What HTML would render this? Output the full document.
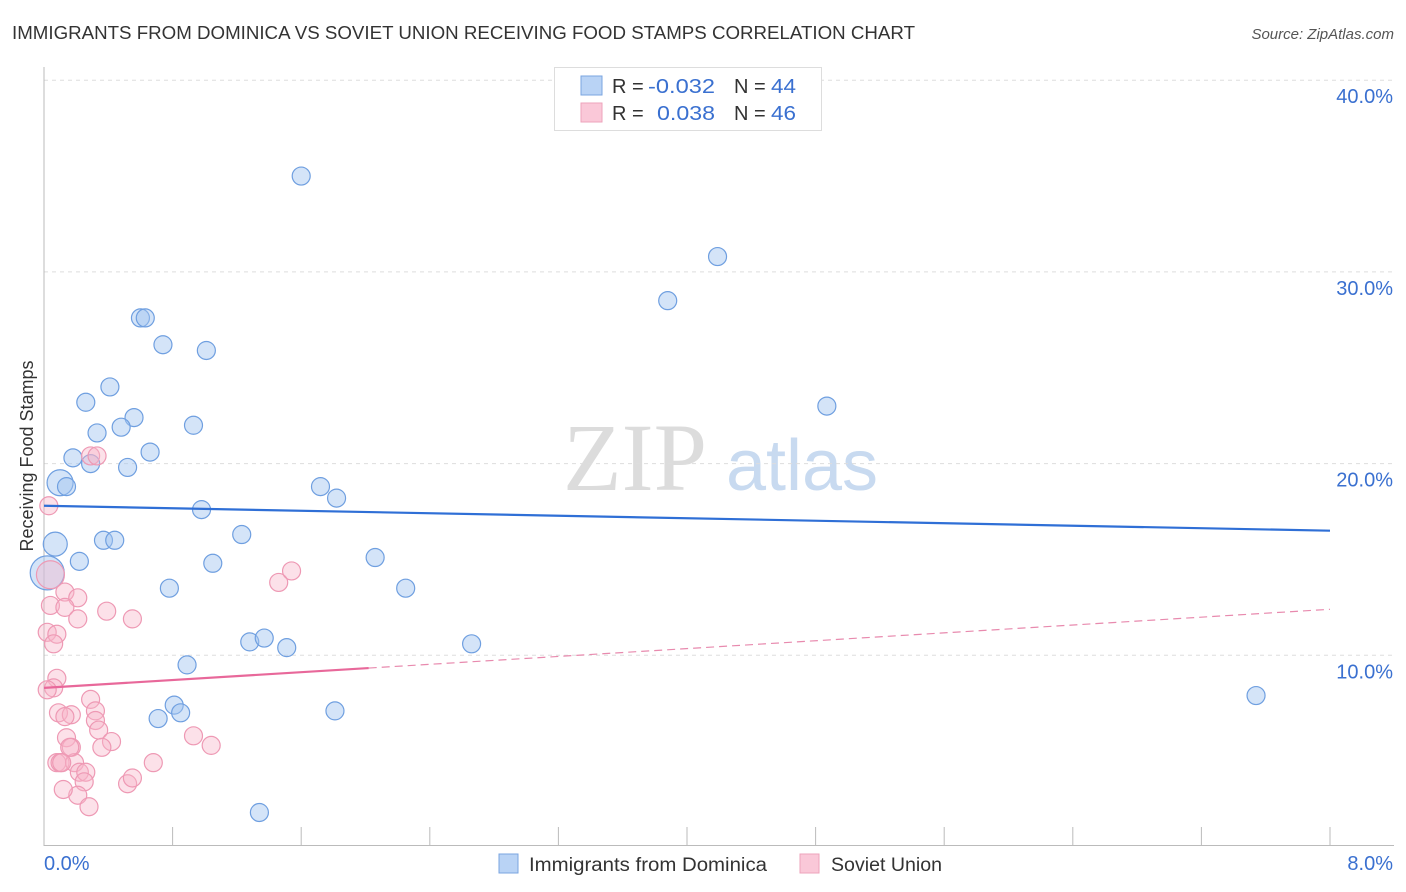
<!DOCTYPE html>
<html><head><meta charset="utf-8"><style>
body{margin:0;background:#fff;font-family:"Liberation Sans",sans-serif;}
svg{display:block}
</style></head><body>
<svg id="chart" width="1406" height="892">
<text x="12" y="39" font-size="18" fill="#333" textLength="903" lengthAdjust="spacingAndGlyphs">IMMIGRANTS FROM DOMINICA VS SOVIET UNION RECEIVING FOOD STAMPS CORRELATION CHART</text>
<text x="1394" y="39" font-size="15" fill="#555" font-style="italic" text-anchor="end">Source: ZipAtlas.com</text>
<text x="33" y="456" font-size="18" fill="#333" text-anchor="middle" transform="rotate(-90 33 456)">Receiving Food Stamps</text>
<g>
<text x="635" y="490" font-size="96" fill="#dcdcdc" font-family="Liberation Serif,serif" text-anchor="middle">ZIP</text>
<text x="802" y="490" font-size="72" fill="#c8daf0" text-anchor="middle">atlas</text>
</g>
<g id="grid"></g><g id="marks"></g><g id="lines"></g>
<g>
<rect x="554.5" y="67.5" width="267" height="63" fill="#fff" stroke="#ddd"/>
<rect x="581" y="76" width="21" height="19" fill="#b9d3f5" stroke="#7aa5e0"/>
<rect x="581" y="103" width="21" height="19" fill="#fac8d8" stroke="#eea3bb"/>
<text x="612" y="93" font-size="20" fill="#333">R =</text>
<text x="648" y="93" font-size="20" fill="#3a70d0" textLength="67" lengthAdjust="spacingAndGlyphs">-0.032</text>
<text x="734" y="93" font-size="20" fill="#333">N =</text>
<text x="771" y="93" font-size="20" fill="#3a70d0" textLength="25" lengthAdjust="spacingAndGlyphs">44</text>
<text x="612" y="120" font-size="20" fill="#333">R =</text>
<text x="657" y="120" font-size="20" fill="#3a70d0" textLength="58" lengthAdjust="spacingAndGlyphs">0.038</text>
<text x="734" y="120" font-size="20" fill="#333">N =</text>
<text x="771" y="120" font-size="20" fill="#3a70d0" textLength="25" lengthAdjust="spacingAndGlyphs">46</text>
</g>
<g>
<rect x="499" y="854" width="19" height="19" fill="#b9d3f5" stroke="#7aa5e0"/>
<text x="529" y="871" font-size="19" fill="#333" textLength="238" lengthAdjust="spacingAndGlyphs">Immigrants from Dominica</text>
<rect x="800" y="854" width="19" height="19" fill="#fac8d8" stroke="#eea3bb"/>
<text x="831" y="871" font-size="19" fill="#333" textLength="111" lengthAdjust="spacingAndGlyphs">Soviet Union</text>
</g>
</svg>
<script>
const xTicks=[0,8];
const yTicks=[10,20,30,40];
const blueX=[1.60,4.19,3.88,0.60,0.63,0.74,1.01,0.41,0.26,4.87,0.56,0.93,0.33,0.48,0.66,0.18,0.29,0.52,0.10,0.14,1.72,1.82,0.98,1.23,0.37,0.44,0.07,2.06,0.22,1.05,0.02,0.78,2.25,1.28,1.37,1.51,2.66,0.89,0.81,0.71,0.85,1.81,7.54,1.34];
const blueY=[35.0,30.8,28.5,27.6,27.6,26.2,25.9,24.0,23.2,23.0,22.4,22.0,21.6,21.9,20.6,20.3,20.0,19.8,19.0,18.8,18.8,18.2,17.6,16.3,16.0,16.0,15.8,15.1,14.9,14.8,14.3,13.5,13.5,10.7,10.9,10.4,10.6,9.5,7.4,6.7,7.0,7.1,7.9,1.8];
const blueR=[9,9,9,9,9,9,9,9,9,9,9,9,9,9,9,9,9,9,13,9,9,9,9,9,9,9,12,9,9,9,17,9,9,9,9,9,9,9,9,9,9,9,9,9];
const pinkX=[0.03,0.29,0.33,0.04,0.04,0.13,0.21,0.13,0.21,0.39,0.55,0.02,0.08,0.06,1.46,1.54,0.08,0.06,0.29,0.09,0.17,0.13,0.32,0.32,0.34,0.14,0.42,0.36,0.17,0.08,0.10,0.19,0.22,0.26,0.25,0.21,0.28,0.52,0.55,0.68,0.93,1.04,0.12,0.16,0.11,0.02];
const pinkY=[17.8,20.4,20.4,14.2,12.6,13.3,13.0,12.5,11.9,12.3,11.9,11.2,11.1,10.6,13.8,14.4,8.8,8.3,7.7,7.0,6.9,6.8,7.1,6.6,6.1,5.7,5.5,5.2,5.2,4.4,4.4,4.4,3.9,3.9,3.4,2.7,2.1,3.3,3.6,4.4,5.8,5.3,3.0,5.2,4.4,8.2];
const pinkR=[9,9,9,14,9,9,9,9,9,9,9,9,9,9,9,9,9,9,9,9,9,9,9,9,9,9,9,9,9,9,9,9,9,9,9,9,9,9,9,9,9,9,9,9,9,9];
const blueTrend=[17.8,16.5];
const pinkTrend=[8.3,12.4];
const pinkSolidEnd=2.02;
const X=v=>44+v*160.75, Y=v=>847-v*19.17;
const NS='http://www.w3.org/2000/svg';
function mk(p,t,a){const e=document.createElementNS(NS,t);for(const k in a)e.setAttribute(k,a[k]);p.appendChild(e);return e;}
const g=document.getElementById('grid');
for(const t of yTicks){
 const l=mk(g,'line',{x1:44,x2:1394,y1:Y(t),y2:Y(t),stroke:'#ddd','stroke-dasharray':'4,4'});
 
 
 const tx=mk(g,'text',{x:1393,y:Y(t)+23,'font-size':20,fill:'#3a70d0','text-anchor':'end'});
 tx.textContent=t.toFixed(1)+'%';
 
 
}
mk(g,'line',{x1:44,x2:44,y1:67,y2:846,stroke:'#bbb'});
mk(g,'line',{x1:44,x2:1394,y1:845.5,y2:845.5,stroke:'#bbb'});
for(let i=1;i<=10;i++){const x=X(i*0.8);mk(g,'line',{x1:x,x2:x,y1:827,y2:845,stroke:'#bbb'});}
xTicks.forEach((t,i)=>{
 const tx=mk(g,'text',{x:i?1393:44,y:870,'font-size':20,fill:'#3a70d0','text-anchor':i?'end':'start'});
 tx.textContent=t.toFixed(1)+'%';
 
 
});
const m=document.getElementById('marks');
blueX.forEach((v,i)=>{
 const c=mk(m,'circle',{cx:X(v),cy:Y(blueY[i]),r:blueR[i],fill:'rgba(160,195,240,0.45)',stroke:'#6f9fe0','stroke-width':1.2});
 
 
});
pinkX.forEach((v,i)=>{
 const c=mk(m,'circle',{cx:X(v),cy:Y(pinkY[i]),r:pinkR[i],fill:'rgba(248,180,200,0.4)',stroke:'#ee99b4','stroke-width':1.2});
 
 
});
const L=document.getElementById('lines');
const bl=mk(L,'line',{x1:X(0),x2:X(8),y1:Y(blueTrend[0]),y2:Y(blueTrend[1]),stroke:'#2f6fd6','stroke-width':2.2});


const py=v=>pinkTrend[0]+(pinkTrend[1]-pinkTrend[0])*v/8;
const pl=mk(L,'line',{x1:X(0),x2:X(pinkSolidEnd),y1:Y(py(0)),y2:Y(py(pinkSolidEnd)),stroke:'#e8689a','stroke-width':2.2});


const pd=mk(L,'line',{x1:X(pinkSolidEnd),x2:X(8),y1:Y(py(pinkSolidEnd)),y2:Y(py(8)),stroke:'#e88aae','stroke-width':1.2,'stroke-dasharray':'8,5'});


</script>
</body></html>
